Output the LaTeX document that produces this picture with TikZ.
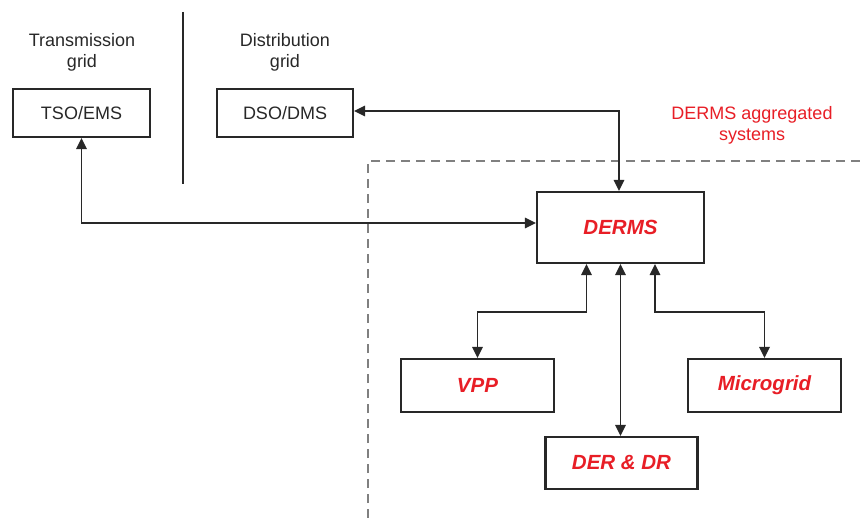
\documentclass[tikz,border=0pt]{standalone}
\usepackage{fontspec}
\setmainfont{Liberation Sans}
\usetikzlibrary{arrows.meta}
\definecolor{ink}{RGB}{40,40,40}
\definecolor{dermsred}{RGB}{232,30,38}
\definecolor{dashgray}{RGB}{128,128,128}
\tikzset{
  box/.style={draw=ink, line width=2.2pt, inner sep=0pt, rectangle},
  plainlabel/.style={text=ink, font=\fontsize{18}{21}\selectfont},
  redlabel/.style={text=dermsred, font=\fontsize{20.5}{24}\selectfont\bfseries\itshape},
  tip/.style={Triangle[length=11pt,width=10.5pt]},
  link/.style={draw=ink, line width=1.7pt, {Triangle[length=11pt,width=10.5pt]}-{Triangle[length=11pt,width=10.5pt]}},
  region/.style={draw=dashgray, line width=1.5pt, dash pattern=on 9pt off 6pt},
}
\begin{document}
\begin{tikzpicture}[x=1pt, y=-1pt]
  \fill[white] (0,0) rectangle (864,518);
  \useasboundingbox (0,0) rectangle (864,518);

  % region of aggregated systems
  \draw[region] (368,518) |- (864,161);

  % grid separator
  \draw[ink, line width=2.8pt] (183,12) -- (183,184);

  % headings
  \node[plainlabel, align=center] (thead) at (82,52) {Transmission\\grid};
  \node[plainlabel, align=center] (dhead) at (285,52) {Distribution\\grid};
  \node[align=center, text=dermsred, font=\fontsize{18}{21}\selectfont] (agg) at (752,125) {DERMS aggregated\\systems};

  % operators
  \node[box, plainlabel, minimum width=137pt, minimum height=48pt] (TSO) at (81.5,113) {TSO/EMS};
  \node[box, plainlabel, minimum width=136pt, minimum height=48pt] (DSO) at (285,113) {DSO/DMS};

  % DERMS and its resources
  \node[box, redlabel, minimum width=167pt, minimum height=71pt] (DERMS) at (620.5,227.5) {DERMS};
  \node[box, redlabel, minimum width=153pt, minimum height=53pt] (VPP) at (477.5,385.5) {VPP};
  \node[box, redlabel, minimum width=153pt, minimum height=53pt] (Micro) at (764.5,385.5) {Microgrid};
  \node[box, redlabel, minimum width=152pt, minimum height=52pt] (DER) at (621.5,463) {DER \& DR};

  % connections
  \draw[link] ([yshift=2pt]DSO.east) -| ([xshift=-1.5pt]DERMS.north);
  \draw[link] (TSO.south) |- ([yshift=4.5pt]DERMS.west);
  \draw[link] ([xshift=-34pt]DERMS.south) -- ++(0,48) -| (VPP.north);
  \draw[link] ([xshift=34.5pt]DERMS.south) -- ++(0,48) -| (Micro.north);
  \draw[link] (DERMS.south) -- (DERMS.south |- DER.north);
\end{tikzpicture}
\end{document}
